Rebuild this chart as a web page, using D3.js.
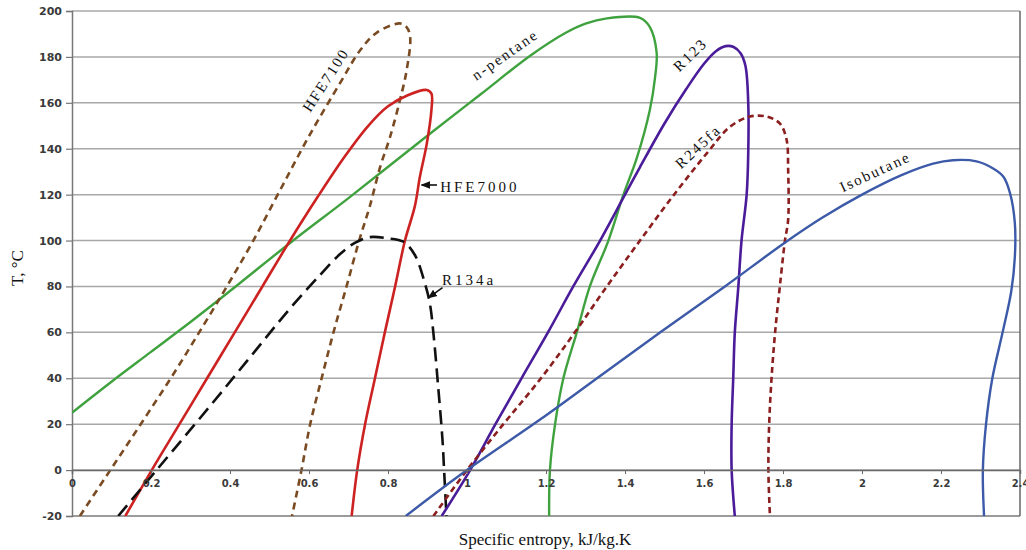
<!DOCTYPE html>
<html>
<head>
<meta charset="utf-8">
<script src="https://cdn.jsdelivr.net/npm/d3@7"></script>
<style>
  html, body { margin: 0; padding: 0; background: #fff; }
  svg { display: block; }
</style>
</head>
<body>
<svg id="chart" width="1026" height="550"></svg>
<script>
// ---------- DATA (specific entropy s [kJ/kg.K], temperature T [°C]) ----------
const xTicks = [0, 0.2, 0.4, 0.6, 0.8, 1, 1.2, 1.4, 1.6, 1.8, 2, 2.2, 2.4];
const xTickLabels = ["0", "0.2", "0.4", "0.6", "0.8", "1", "1.2", "1.4", "1.6", "1.8", "2", "2.2", "2.4"];
const yTicks = [-20, 0, 20, 40, 60, 80, 100, 120, 140, 160, 180, 200];
const yTickLabels = ["-20", "0", "20", "40", "60", "80", "100", "120", "140", "160", "180", "200"];

const nPentane = [[0,25],[0.1,38.5],[0.2,51.5],[0.3,64.5],[0.4,78],[0.556,99.5],[0.7,118.5],[0.906,146.5],[1.033,163.5],[1.16,180.5],[1.25,190.5],[1.3,194.5],[1.354,196.8],[1.438,197],[1.463,193],[1.48,182],[1.476,171],[1.463,157],[1.43,136],[1.396,120],[1.358,100],[1.311,80],[1.278,60],[1.244,40],[1.223,20],[1.21,0],[1.208,-20]];
const hfe7100 = [[0.02,-20],[0.097,0],[0.174,20],[0.25,40],[0.322,60],[0.392,80],[0.459,100],[0.527,122],[0.6,145.5],[0.68,169],[0.73,183],[0.771,190.5],[0.83,194.6],[0.847,193],[0.856,188.8],[0.847,174],[0.83,161],[0.805,145],[0.78,132],[0.754,115],[0.727,100],[0.695,80],[0.662,60],[0.632,40],[0.603,20],[0.581,0],[0.557,-20]];
const hfe7000 = [[0.135,-20],[0.202,0],[0.272,20],[0.342,40],[0.412,60],[0.482,80],[0.552,100],[0.62,118.5],[0.69,136.5],[0.75,150],[0.8,158.5],[0.85,163.3],[0.898,165.6],[0.91,164],[0.91,157],[0.898,142],[0.881,128],[0.868,115],[0.843,100],[0.818,80],[0.792,60],[0.767,40],[0.742,20],[0.722,0],[0.708,-20]];
const r134a = [[0.117,-20],[0.214,0],[0.35,28],[0.45,49],[0.55,70],[0.628,85],[0.678,94],[0.716,99],[0.754,101.5],[0.797,101],[0.839,99.5],[0.868,93.7],[0.894,81],[0.906,72.6],[0.915,59.6],[0.927,36.3],[0.938,13],[0.942,0],[0.948,-20]];
const r123 = [[0.936,-20],[1.008,0],[1.072,20],[1.138,40],[1.205,60],[1.269,80],[1.337,100],[1.4,120],[1.438,132],[1.5,151],[1.555,166],[1.6,177],[1.63,182.5],[1.655,184.7],[1.675,184.3],[1.693,181.5],[1.705,176],[1.712,160],[1.712,138],[1.708,120],[1.695,100],[1.687,80],[1.678,60],[1.674,40],[1.67,20],[1.67,0],[1.678,-20]];
const r245fa = [[0.915,-20],[1.0,0],[1.092,20],[1.185,39.5],[1.273,60],[1.354,80],[1.438,100],[1.522,119.5],[1.607,138],[1.666,149.6],[1.716,154],[1.759,154],[1.792,151],[1.809,144],[1.813,131],[1.813,109],[1.805,100],[1.792,80],[1.78,60],[1.771,40],[1.765,20],[1.763,0],[1.767,-20]];
const isobutane = [[0.845,-20],[1.0,0],[1.185,22],[1.337,41],[1.493,60.5],[1.653,80],[1.8,98.5],[1.9,110],[2.0,120],[2.1,128.5],[2.18,133.5],[2.23,135],[2.29,134.5],[2.332,131.4],[2.358,127.8],[2.375,120.5],[2.387,107.5],[2.387,93],[2.378,78],[2.356,60],[2.33,40],[2.314,20],[2.306,0],[2.309,-20]];

const seriesNames = ["n-pentane", "HFE7100", "HFE7000", "R134a", "R123", "R245fa", "Isobutane"];
const seriesData = [nPentane, hfe7100, hfe7000, r134a, r123, r245fa, isobutane];

// ---------- STYLE / LAYOUT ----------
const styles = {
  "n-pentane": { color: "#3fa23f", dash: null,   width: 2.4 },
  "HFE7100":   { color: "#7a4b22", dash: "7,5",  width: 2.6 },
  "HFE7000":   { color: "#cc2222", dash: null,   width: 2.6 },
  "R134a":     { color: "#111111", dash: "14,7", width: 2.6 },
  "R123":      { color: "#4a1c9a", dash: null,   width: 2.6 },
  "R245fa":    { color: "#8b1e1e", dash: "6,4",  width: 2.6 },
  "Isobutane": { color: "#3c5aa8", dash: null,   width: 2.4 }
};

const plot = { left: 72, right: 1020, top: 11, bottom: 516 };
const svg = d3.select("#chart");
const x = d3.scaleLinear().domain([0, 2.4]).range([plot.left, plot.right]);
const y = d3.scaleLinear().domain([-20, 200]).range([plot.bottom, plot.top]);

svg.append("defs").append("clipPath").attr("id", "clip")
  .append("rect").attr("x", plot.left).attr("y", plot.top)
  .attr("width", plot.right - plot.left).attr("height", plot.bottom - plot.top);

// gridlines
svg.append("g").selectAll("line").data(yTicks).join("line")
  .attr("x1", plot.left).attr("x2", plot.right)
  .attr("y1", d => y(d)).attr("y2", d => y(d))
  .attr("stroke", d => d === -20 ? "#7a7a7a" : "#a8a8a8")
  .attr("stroke-width", 1.5);

// right border
svg.append("line").attr("x1", plot.right).attr("x2", plot.right)
  .attr("y1", plot.top).attr("y2", plot.bottom).attr("stroke", "#666").attr("stroke-width", 1.5);

// Y axis
const yAxis = d3.axisLeft(y).tickValues(yTicks)
  .tickFormat((d, i) => yTickLabels[i]).tickSize(6).tickPadding(4);
const gy = svg.append("g").attr("transform", `translate(${plot.left},0)`).call(yAxis);
gy.select(".domain").attr("stroke", "#777").attr("stroke-width", 1.5);
gy.selectAll(".tick line").attr("stroke", "#777").attr("stroke-width", 1.2);
gy.selectAll(".tick text").attr("font-family", "DejaVu Sans, sans-serif")
  .attr("font-size", 11).attr("fill", "#3a3a3a").attr("font-weight", "bold");

// curves
const line = d3.line().x(d => x(d[0])).y(d => y(d[1])).curve(d3.curveCatmullRom.alpha(0.5));
const gc = svg.append("g").attr("clip-path", "url(#clip)");
seriesData.forEach((data, i) => {
  const st = styles[seriesNames[i]];
  gc.append("path").datum(data)
    .attr("d", line)
    .attr("fill", "none")
    .attr("stroke", st.color)
    .attr("stroke-width", st.width)
    .attr("stroke-dasharray", st.dash)
    .attr("stroke-linejoin", "round");
});

// X axis at T = 0
const xAxis = d3.axisBottom(x).tickValues(xTicks)
  .tickFormat((d, i) => xTickLabels[i]).tickSize(4).tickPadding(6);
const gx = svg.append("g").attr("transform", `translate(0,${y(0)})`).call(xAxis);
gx.select(".domain").attr("stroke", "#6a6a6a").attr("stroke-width", 1.5);
gx.selectAll(".tick line").attr("stroke", "#6a6a6a");
gx.selectAll(".tick text").attr("font-family", "DejaVu Sans, sans-serif")
  .attr("font-size", 10).attr("fill", "#3a3a3a").attr("font-weight", "bold");

// axis titles
svg.append("text").attr("x", 545).attr("y", 545).attr("text-anchor", "middle")
  .attr("font-family", "Liberation Serif, Times New Roman, serif").attr("font-size", 17)
  .attr("fill", "#111").text("Specific entropy, kJ/kg.K");
svg.append("text").attr("transform", "translate(23,268) rotate(-90)").attr("text-anchor", "middle")
  .attr("font-family", "Liberation Serif, Times New Roman, serif").attr("font-size", 17)
  .attr("fill", "#111").text("T, °C");

// curve labels (positions in data coordinates)
const labelFont = "Liberation Serif, Times New Roman, serif";
const rotLabels = [
  { text: "HFE7100",   s: 0.642, T: 170, rot: -57 },
  { text: "n-pentane", s: 1.096, T: 181, rot: -35 },
  { text: "R123",      s: 1.565, T: 181, rot: -44 },
  { text: "R245fa",    s: 1.585, T: 141, rot: -43 },
  { text: "Isobutane", s: 2.033, T: 130, rot: -25 }
];
svg.append("g").selectAll("text").data(rotLabels).join("text")
  .attr("transform", d => `translate(${x(d.s)},${y(d.T)}) rotate(${d.rot})`)
  .attr("text-anchor", "middle").attr("dy", "0.35em")
  .attr("font-family", labelFont).attr("font-size", 15).attr("letter-spacing", 2)
  .attr("fill", "#111").text(d => d.text);

const arrowLabels = [
  { text: "HFE7000", s: 0.932, T: 121.3, ax1: 0.924, aT1: 124.2, ax2: 0.885, aT2: 124.2 },
  { text: "R134a",   s: 0.937, T: 80.6,  ax1: 0.938, aT1: 79.5,  ax2: 0.902, aT2: 75 }
];
const defs = svg.select("defs");
defs.append("marker").attr("id", "arr").attr("viewBox", "0 0 10 10")
  .attr("refX", 9).attr("refY", 5).attr("markerWidth", 6).attr("markerHeight", 6)
  .attr("orient", "auto").append("path").attr("d", "M0,1 L10,5 L0,9 z").attr("fill", "#111");
const ga = svg.append("g");
arrowLabels.forEach(d => {
  ga.append("line").attr("x1", x(d.ax1)).attr("y1", y(d.aT1))
    .attr("x2", x(d.ax2)).attr("y2", y(d.aT2))
    .attr("stroke", "#111").attr("stroke-width", 1.6).attr("marker-end", "url(#arr)");
  ga.append("text").attr("x", x(d.s)).attr("y", y(d.T))
    .attr("font-family", labelFont).attr("font-size", 15).attr("letter-spacing", 3)
    .attr("fill", "#111").text(d.text);
});
</script>
</body>
</html>
